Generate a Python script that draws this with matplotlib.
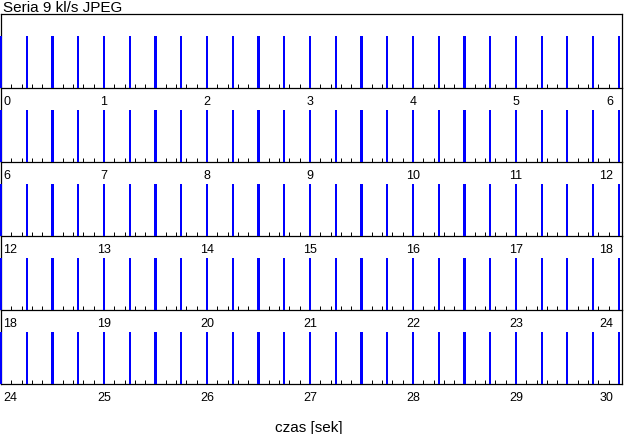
import matplotlib
matplotlib.use("Agg")
import matplotlib.pyplot as plt
import matplotlib.transforms as mtransforms

plt.rcParams['font.family'] = ['Liberation Sans', 'DejaVu Sans']

# ---- data ----
title = "Seria 9 kl/s JPEG"
xlabel = "czas [sek]"
row_starts = [0, 6, 12, 18, 24]
row_length = 6
frame_times = [
    0.00, 0.25, 0.50, 0.75, 1.00, 1.25, 1.50, 1.75, 2.00, 2.25, 2.50, 2.75,
    3.00, 3.25, 3.50, 3.75, 4.00, 4.25, 4.50, 4.75, 5.00, 5.25, 5.50, 5.75,
    6.00, 6.25, 6.50, 6.75, 7.00, 7.25, 7.50, 7.75, 8.00, 8.25, 8.50, 8.75,
    9.00, 9.25, 9.50, 9.75, 10.00, 10.25, 10.50, 10.75, 11.00, 11.25, 11.50, 11.75,
    12.00, 12.25, 12.50, 12.75, 13.00, 13.25, 13.50, 13.75, 14.00, 14.25, 14.50, 14.75,
    15.00, 15.25, 15.50, 15.75, 16.00, 16.25, 16.50, 16.75, 17.00, 17.25, 17.50, 17.75,
    18.00, 18.25, 18.50, 18.75, 19.00, 19.25, 19.50, 19.75, 20.00, 20.25, 20.50, 20.75,
    21.00, 21.25, 21.50, 21.75, 22.00, 22.25, 22.50, 22.75, 23.00, 23.25, 23.50, 23.75,
    24.00, 24.25, 24.50, 24.75, 25.00, 25.25, 25.50, 25.75, 26.00, 26.25, 26.50, 26.75,
    27.00, 27.25, 27.50, 27.75, 28.00, 28.25, 28.50, 28.75, 29.00, 29.25, 29.50, 29.75,
    30.00,
]

# ---- layout (pixels) ----
W, H = 624, 435
left_px, right_px = 1, 622
row_h_px = 74
first_bottom_px = 89
bar_h_px = 52
x_extra = 0.03  # visible range beyond 6 s

fig = plt.figure(figsize=(W / 100, H / 100), dpi=100)
fig.patch.set_facecolor('white')

lw = 0.9
for i, start in enumerate(row_starts):
    bottom_px = first_bottom_px + row_h_px * i
    ax = fig.add_axes([left_px / W, 1 - bottom_px / H,
                       (right_px - left_px) / W, row_h_px / H])
    ax.patch.set_alpha(0)
    x0, x1 = start, start + row_length + x_extra
    ax.set_xlim(x0, x1)
    ax.set_ylim(0, row_h_px / bar_h_px)
    ts = [t for t in frame_times if start - 1e-9 <= t <= start + row_length + 1e-9]
    ax.bar(ts, [1.0] * len(ts), width=0.021, color='#0000ff', align='center',
           zorder=3, clip_on=False, linewidth=0, antialiased=False)
    # ticks
    minor = [start + k / 10 for k in range(0, row_length * 10 + 1)]
    ax.set_xticks(minor)
    ax.set_xticklabels([])
    ax.set_yticks([])
    ax.tick_params(axis='x', direction='in', length=2.9, width=0.7,
                   color='black', bottom=True, top=False)
    for s in ['left', 'right', 'bottom']:
        ax.spines[s].set_linewidth(lw)
        ax.spines[s].set_color('black')
    ax.spines['top'].set_visible(i == 0)
    ax.spines['top'].set_linewidth(lw)

    # labels
    base = ax.get_xaxis_transform()
    for k in range(row_length + 1):
        val = start + k
        if k == 0:
            tr = base + mtransforms.ScaledTranslation(2 / 100, -7 / 100, fig.dpi_scale_trans)
            ax.text(val, 0, str(val), transform=tr, ha='left', va='top', fontsize=9)
        elif k == row_length:
            tr = ax.transAxes + mtransforms.ScaledTranslation(-9 / 100, -7 / 100, fig.dpi_scale_trans)
            ax.text(1, 0, str(val), transform=tr, ha='right', va='top', fontsize=9)
        else:
            tr = base + mtransforms.ScaledTranslation(0, -7 / 100, fig.dpi_scale_trans)
            ax.text(val, 0, str(val), transform=tr, ha='center', va='top', fontsize=9)

fig.text(3 / W, 1 - 1 / H, title, ha='left', va='top', fontsize=11)
fig.text(309 / W, 1 - 432 / H, xlabel, ha='center', va='baseline', fontsize=11)

fig.savefig('out.png', dpi=100, facecolor='white')
